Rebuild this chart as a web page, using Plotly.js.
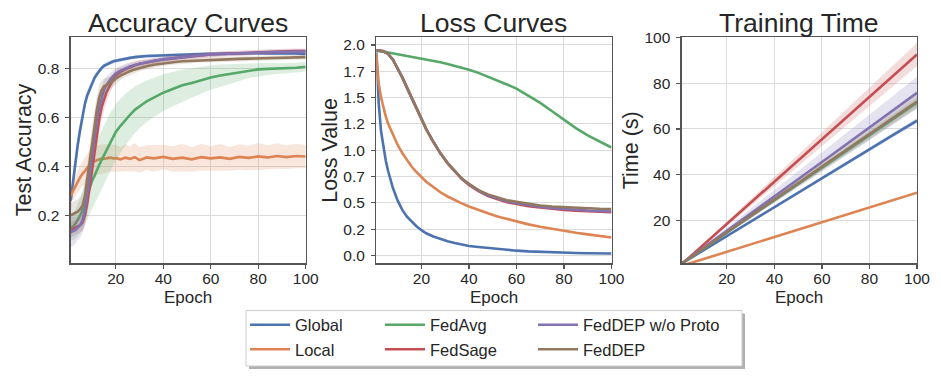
<!DOCTYPE html>
<html>
<head>
<meta charset="utf-8">
<script src="https://cdn.plot.ly/plotly-3.0.1.min.js"></script>
<style>
  body { margin: 0; background: #fff; }
  #myDiv { width: 941px; height: 377px; }
</style>
</head>
<body>
<div id="myDiv"></div>
<script>
// ---- data ----
var seriesNames = ['Global', 'Local', 'FedAvg', 'FedSage', 'FedDEP w/o Proto', 'FedDEP'];
var seriesColors = ['#4C72B0', '#DD8452', '#55A868', '#C44E52', '#8172B3', '#937860'];

// accuracy panel
var accEpochs = [1,2,3,4,5,6,7,8,9,10,11,12,13,14,15,16,17,18,19,20,
  22,24,26,28,30,33,36,40,44,48,52,56,60,64,68,72,76,80,84,88,92,96,100];

var accGlobal = [0.26,0.34,0.42,0.49,0.55,0.61,0.655,0.69,0.715,0.74,0.76,0.775,0.79,0.80,0.81,0.815,0.82,0.825,0.828,0.83,
  0.835,0.838,0.842,0.845,0.848,0.85,0.851,0.853,0.855,0.857,0.856,0.858,0.859,0.86,0.86,0.859,0.861,0.861,0.86,0.862,0.861,0.86,0.858];
var accGlobalSd = [0.05,0.05,0.045,0.04,0.035,0.03,0.025,0.02,0.018,0.016,0.015,0.013,0.012,0.011,0.01,0.01,0.009,0.009,0.008,0.008,
  0.008,0.008,0.007,0.007,0.007,0.007,0.006,0.006,0.006,0.006,0.006,0.006,0.006,0.006,0.006,0.006,0.006,0.006,0.006,0.006,0.006,0.006,0.006];

var accLocal = [0.28,0.30,0.32,0.34,0.355,0.37,0.38,0.395,0.405,0.415,0.42,0.425,0.428,0.43,0.43,0.432,0.434,0.435,0.432,0.433,
  0.428,0.435,0.43,0.437,0.425,0.436,0.432,0.438,0.43,0.435,0.428,0.437,0.432,0.436,0.43,0.438,0.434,0.44,0.436,0.442,0.437,0.442,0.44];
var accLocalSd = [0.03,0.035,0.04,0.045,0.05,0.05,0.055,0.06,0.06,0.065,0.06,0.06,0.06,0.06,0.06,0.06,0.055,0.055,0.055,0.055,
  0.05,0.055,0.05,0.058,0.052,0.05,0.055,0.05,0.052,0.056,0.05,0.054,0.05,0.055,0.048,0.052,0.05,0.055,0.05,0.052,0.048,0.05,0.048];

var accFedAvg = [0.15,0.155,0.165,0.18,0.2,0.22,0.25,0.28,0.31,0.34,0.36,0.385,0.405,0.425,0.445,0.465,0.485,0.505,0.52,0.54,
  0.565,0.59,0.61,0.63,0.645,0.665,0.68,0.70,0.715,0.73,0.74,0.752,0.762,0.77,0.777,0.783,0.79,0.795,0.797,0.798,0.80,0.802,0.806];
var accFedAvgSd = [0.05,0.055,0.06,0.065,0.07,0.08,0.09,0.1,0.105,0.11,0.115,0.12,0.12,0.12,0.12,0.12,0.12,0.12,0.115,0.115,
  0.11,0.105,0.1,0.095,0.09,0.085,0.08,0.075,0.07,0.065,0.06,0.055,0.05,0.045,0.04,0.035,0.03,0.028,0.025,0.022,0.02,0.02,0.02];

var accFedSage = [0.14,0.145,0.15,0.155,0.16,0.17,0.2,0.25,0.32,0.4,0.47,0.53,0.59,0.64,0.67,0.70,0.72,0.74,0.755,0.77,
  0.785,0.795,0.805,0.812,0.818,0.824,0.83,0.836,0.84,0.845,0.848,0.852,0.856,0.858,0.86,0.862,0.864,0.865,0.866,0.868,0.869,0.87,0.87];
var accFedSageSd = [0.03,0.03,0.03,0.03,0.03,0.035,0.04,0.05,0.06,0.06,0.06,0.06,0.055,0.05,0.045,0.04,0.035,0.03,0.028,0.025,
  0.02,0.018,0.016,0.015,0.014,0.012,0.012,0.01,0.01,0.01,0.01,0.01,0.01,0.01,0.01,0.01,0.01,0.01,0.01,0.01,0.01,0.01,0.01];

var accNoProto = [0.13,0.135,0.14,0.15,0.16,0.18,0.22,0.29,0.37,0.45,0.53,0.59,0.64,0.68,0.71,0.73,0.745,0.758,0.768,0.778,
  0.79,0.80,0.807,0.813,0.818,0.825,0.83,0.836,0.841,0.846,0.85,0.853,0.856,0.858,0.86,0.862,0.863,0.864,0.865,0.866,0.867,0.868,0.868];
var accNoProtoSd = [0.06,0.06,0.055,0.05,0.05,0.05,0.055,0.06,0.065,0.065,0.06,0.055,0.05,0.045,0.04,0.035,0.03,0.028,0.025,0.022,
  0.02,0.018,0.016,0.015,0.014,0.012,0.012,0.01,0.01,0.01,0.01,0.01,0.01,0.01,0.01,0.01,0.01,0.01,0.01,0.01,0.01,0.01,0.01];

var accFedDEP = [0.2,0.205,0.21,0.215,0.225,0.24,0.28,0.35,0.43,0.5,0.57,0.63,0.68,0.71,0.725,0.73,0.735,0.742,0.75,0.758,
  0.77,0.78,0.788,0.795,0.801,0.808,0.814,0.82,0.824,0.828,0.83,0.833,0.835,0.836,0.837,0.838,0.839,0.84,0.841,0.842,0.843,0.844,0.845];
var accFedDEPSd = [0.05,0.05,0.05,0.05,0.05,0.05,0.055,0.06,0.065,0.065,0.06,0.055,0.05,0.04,0.035,0.03,0.028,0.025,0.022,0.02,
  0.018,0.016,0.015,0.014,0.013,0.012,0.011,0.01,0.01,0.01,0.01,0.01,0.01,0.01,0.01,0.01,0.01,0.01,0.01,0.01,0.01,0.01,0.01];

// loss panel
var lossEpochs = [1,2,3,4,5,6,8,10,12,14,16,18,20,22,25,28,31,34,37,40,44,48,52,56,60,65,70,75,80,85,90,95,100];

var lossGlobal = [1.93,1.45,1.18,1.02,0.9,0.8,0.64,0.52,0.43,0.365,0.315,0.275,0.24,0.21,0.18,0.155,0.135,0.117,0.102,0.09,
  0.08,0.07,0.06,0.052,0.045,0.038,0.033,0.029,0.026,0.023,0.021,0.02,0.018];
var lossLocal = [1.92,1.64,1.5,1.4,1.32,1.25,1.15,1.05,0.97,0.9,0.84,0.79,0.74,0.70,0.65,0.60,0.56,0.525,0.495,0.465,
  0.43,0.40,0.37,0.345,0.32,0.295,0.272,0.252,0.235,0.216,0.2,0.185,0.17];
var lossFedAvg = [1.946,1.944,1.94,1.936,1.932,1.928,1.92,1.91,1.90,1.893,1.886,1.878,1.87,1.862,1.85,1.836,1.82,1.804,1.786,1.765,
  1.735,1.70,1.665,1.625,1.585,1.52,1.45,1.37,1.29,1.21,1.14,1.08,1.025];
var lossFedSage = [1.95,1.95,1.945,1.94,1.93,1.915,1.86,1.78,1.69,1.59,1.49,1.39,1.29,1.2,1.08,0.97,0.875,0.795,0.725,0.67,
  0.61,0.565,0.535,0.505,0.49,0.468,0.455,0.44,0.432,0.425,0.42,0.413,0.41];
var lossNoProto = [1.95,1.95,1.945,1.94,1.93,1.915,1.86,1.78,1.69,1.59,1.49,1.39,1.29,1.2,1.08,0.97,0.878,0.798,0.728,0.675,
  0.615,0.572,0.54,0.515,0.497,0.476,0.462,0.45,0.44,0.433,0.427,0.422,0.418];
var lossFedDEP = [1.95,1.95,1.945,1.94,1.93,1.915,1.86,1.78,1.69,1.59,1.49,1.39,1.29,1.2,1.08,0.97,0.88,0.80,0.73,0.68,
  0.62,0.58,0.55,0.525,0.51,0.49,0.475,0.465,0.458,0.452,0.447,0.443,0.44];

// training time panel
var timeEpochs = [1,10,20,30,40,50,60,70,80,90,100];

var timeGlobal = [1.3,7.0,13.3,19.6,25.9,32.2,38.6,44.8,51.1,57.4,63.6];
var timeGlobalSd = [0.1,0.2,0.3,0.4,0.5,0.6,0.7,0.8,0.9,1.0,1.1];
var timeLocal = [0.3,3.2,6.4,9.6,12.9,16.1,19.3,22.6,25.8,29.0,32.2];
var timeLocalSd = [0.05,0.1,0.1,0.15,0.2,0.2,0.25,0.3,0.3,0.35,0.4];
var timeFedAvg = [1.3,7.7,14.9,22.0,29.1,36.2,43.3,50.3,57.4,64.5,71.5];
var timeFedAvgSd = [0.1,0.3,0.5,0.7,0.9,1.1,1.3,1.5,1.7,1.9,2.1];
var timeFedSage = [1.0,9.3,18.6,27.8,37.1,46.3,55.6,64.8,74.1,83.3,92.5];
var timeFedSageSd = [0.1,0.5,1.0,1.5,2.0,2.5,3.0,3.5,4.0,4.5,5.0];
var timeNoProto = [1.3,8.0,15.6,23.1,30.6,38.1,45.6,53.1,60.6,68.1,75.8];
var timeNoProtoSd = [0.1,0.7,1.4,2.1,2.8,3.5,4.2,4.9,5.6,6.3,7.0];
var timeFedDEP = [1.3,7.8,15.0,22.1,29.3,36.4,43.6,50.7,57.9,65.0,72.0];
var timeFedDEPSd = [0.1,0.3,0.6,0.9,1.2,1.5,1.8,2.1,2.4,2.7,3.0];

var accMeans = [accGlobal, accLocal, accFedAvg, accFedSage, accNoProto, accFedDEP];
var accSds = [accGlobalSd, accLocalSd, accFedAvgSd, accFedSageSd, accNoProtoSd, accFedDEPSd];
var lossMeans = [lossGlobal, lossLocal, lossFedAvg, lossFedSage, lossNoProto, lossFedDEP];
var timeMeans = [timeGlobal, timeLocal, timeFedAvg, timeFedSage, timeNoProto, timeFedDEP];
var timeSds = [timeGlobalSd, timeLocalSd, timeFedAvgSd, timeFedSageSd, timeNoProtoSd, timeFedDEPSd];

var legendOf = ['legend', 'legend', 'legend2', 'legend2', 'legend3', 'legend3'];

function rgba(hex, a) {
  var r = parseInt(hex.slice(1, 3), 16), g = parseInt(hex.slice(3, 5), 16), b = parseInt(hex.slice(5, 7), 16);
  return 'rgba(' + r + ',' + g + ',' + b + ',' + a + ')';
}

function band(x, mean, sd, color, xa, ya) {
  var xs = x.concat(x.slice().reverse());
  var up = mean.map(function (m, i) { return m + sd[i]; });
  var lo = mean.map(function (m, i) { return m - sd[i]; }).reverse();
  return {
    x: xs, y: up.concat(lo), xaxis: xa, yaxis: ya,
    type: 'scatter', mode: 'lines', fill: 'toself',
    fillcolor: rgba(color, 0.2), line: {width: 0},
    hoverinfo: 'skip', showlegend: false
  };
}

function line(x, y, i, xa, ya, legend) {
  var t = {
    x: x, y: y, xaxis: xa, yaxis: ya, type: 'scatter', mode: 'lines',
    name: seriesNames[i], line: {color: seriesColors[i], width: 2.6},
    showlegend: !!legend
  };
  if (legend) t.legend = legendOf[i];
  return t;
}

var data = [];
for (var i = 0; i < 6; i++) {
  data.push(band(accEpochs, accMeans[i], accSds[i], seriesColors[i], 'x', 'y'));
  data.push(line(accEpochs, accMeans[i], i, 'x', 'y', true));
}
for (var i = 0; i < 6; i++) {
  data.push(line(lossEpochs, lossMeans[i], i, 'x2', 'y2', false));
}
for (var i = 0; i < 6; i++) {
  data.push(band(timeEpochs, timeMeans[i], timeSds[i], seriesColors[i], 'x3', 'y3'));
  data.push(line(timeEpochs, timeMeans[i], i, 'x3', 'y3', false));
}

var W = 941, H = 377;
function px(x) { return x / W; }
function py(y) { return 1 - y / H; }

var textColor = '#262626';
var fontFam = 'Liberation Sans, Arial, sans-serif';

function xax(dom, anchor) {
  return {
    domain: dom, anchor: anchor, range: [1, 100], tickvals: [20, 40, 60, 80, 100],
    showline: true, mirror: true, linecolor: '#555555', linewidth: 1.3,
    ticks: 'outside', ticklen: 4, tickcolor: '#555555', tickwidth: 1.2,
    showgrid: true, gridcolor: '#dcdcdc', gridwidth: 1, zeroline: false,
    ticklabelstandoff: -3,
    tickfont: {size: 15.5, color: textColor, family: fontFam}
  };
}
function yax(range, vals, texts, anchor) {
  var a = {
    domain: [py(263.3), py(37.3)], anchor: anchor, range: range, tickvals: vals,
    showline: true, mirror: true, linecolor: '#555555', linewidth: 1.3,
    ticks: 'outside', ticklen: 4, tickcolor: '#555555', tickwidth: 1.2,
    showgrid: true, gridcolor: '#dcdcdc', gridwidth: 1, zeroline: false,
    ticklabelstandoff: 3,
    tickfont: {size: 15.5, color: textColor, family: fontFam}
  };
  if (texts) a.ticktext = texts;
  return a;
}

var lossTicks = [0, 0.25, 0.5, 0.75, 1.0, 1.25, 1.5, 1.75, 2.0];
var lossTickText = ['0.0', '0.2', '0.5', '0.7', '1.0', '1.2', '1.5', '1.7', '2.0'];

function ann(text, x, y, size, rot) {
  return {
    text: text, xref: 'paper', yref: 'paper', x: px(x), y: py(y),
    xanchor: 'center', yanchor: 'middle', showarrow: false, textangle: rot || 0,
    font: {size: size, color: textColor, family: fontFam}
  };
}

var legendBase = {
  orientation: 'v', bgcolor: 'rgba(0,0,0,0)', borderwidth: 0,
  font: {size: 16.5, color: textColor, family: fontFam},
  xanchor: 'left', yanchor: 'top', y: py(307.5), itemwidth: 40, tracegroupgap: 0
};
function leg(x) {
  var l = JSON.parse(JSON.stringify(legendBase));
  l.x = px(x);
  return l;
}

var layout = {
  width: W, height: H,
  margin: {l: 0, r: 0, t: 0, b: 0},
  paper_bgcolor: '#ffffff', plot_bgcolor: '#ffffff',
  font: {family: fontFam, color: textColor},
  xaxis: xax([px(70.7), px(305.7)], 'y'),
  yaxis: yax([0.004, 0.926], [0.2, 0.4, 0.6, 0.8], null, 'x'),
  xaxis2: xax([px(376.3), px(611.5)], 'y2'),
  yaxis2: yax([-0.075, 2.073], lossTicks, lossTickText, 'x2'),
  xaxis3: xax([px(681.7), px(917)], 'y3'),
  yaxis3: yax([1.4, 100], [20, 40, 60, 80, 100], null, 'x3'),
  legend: leg(245),
  legend2: leg(380),
  legend3: leg(533),
  shapes: [
    {type: 'rect', xref: 'paper', yref: 'paper', x0: px(249), x1: px(745), y0: py(313.5), y1: py(369),
      fillcolor: '#b0b0b0', line: {width: 0}, layer: 'above'},
    {type: 'rect', xref: 'paper', yref: 'paper', x0: px(246), x1: px(742), y0: py(310.5), y1: py(366),
      fillcolor: '#ffffff', line: {color: '#cccccc', width: 1}, layer: 'above'}
  ],
  annotations: [
    ann('Accuracy Curves', 188.2, 23.5, 26.5),
    ann('Loss Curves', 493.9, 23.5, 26.5),
    ann('Training Time', 799.3, 23.5, 26.5),
    ann('Test Accuracy', 24, 150.3, 21.5, -90),
    ann('Loss Value', 330.5, 150.3, 21.5, -90),
    ann('Time (s)', 631, 150.3, 21.5, -90),
    ann('Epoch', 188.2, 297, 17),
    ann('Epoch', 493.9, 297, 17),
    ann('Epoch', 799.3, 297, 17)
  ]
};

Plotly.newPlot('myDiv', data, layout, {displayModeBar: false, staticPlot: true});
</script>
</body>
</html>
